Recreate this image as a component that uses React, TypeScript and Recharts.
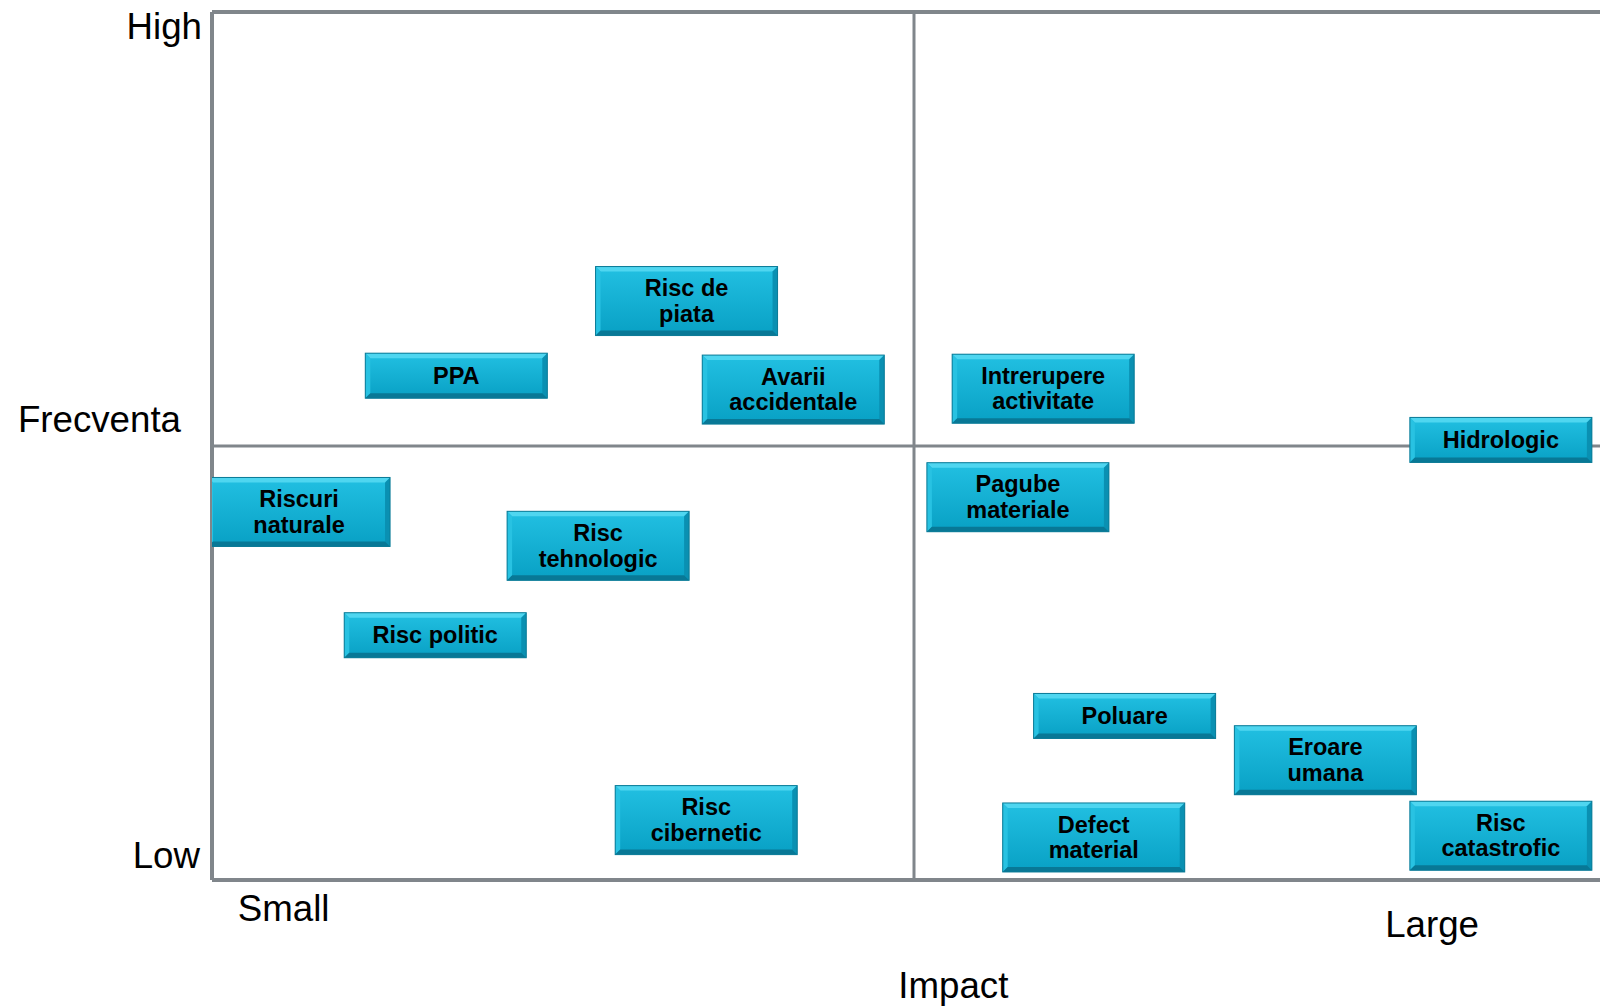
import React from 'react';
import { ScatterChart, Scatter, XAxis, YAxis, ReferenceLine } from 'recharts';

// Risk names (lines of each box label)
const riskLabels: string[][] = [
  ['Risc de', 'piata'],
  ['PPA'],
  ['Avarii', 'accidentale'],
  ['Intrerupere', 'activitate'],
  ['Hidrologic'],
  ['Riscuri', 'naturale'],
  ['Risc', 'tehnologic'],
  ['Pagube', 'materiale'],
  ['Risc politic'],
  ['Poluare'],
  ['Eroare', 'umana'],
  ['Risc', 'cibernetic'],
  ['Defect', 'material'],
  ['Risc', 'catastrofic'],
];
// Impact (x) values
const impactValues: number[] = [3.38, 1.74, 4.14, 5.92, 9.18, 0.62, 2.75, 5.74, 1.59, 6.5, 7.93, 3.52, 6.28, 9.18];
// Frequency (y) values
const frequencyValues: number[] = [6.67, 5.81, 5.65, 5.66, 5.07, 4.24, 3.85, 4.41, 2.82, 1.89, 1.38, 0.69, 0.49, 0.51];

// Axis tick labels
const yTickValues: number[] = [0, 10];
const yTickLabels: string[] = ['Low', 'High'];
const xTickValues: number[] = [0.51, 8.69, 5.28];
const xTickLabels: string[] = ['Small', 'Large', 'Impact'];
const yTitleValue = 5.3;
const yTitle = 'Frecventa';

const data = riskLabels.map((lines, i) => ({
  x: impactValues[i],
  y: frequencyValues[i],
  lines,
}));

const LINE = '#80868b';
const FONT = '"Liberation Sans", Arial, sans-serif';

const BoxShape = (props: any) => {
  const { cx, cy, payload } = props;
  const lines: string[] = payload.lines;
  const w = 182;
  const h = lines.length > 1 ? 69 : 45;
  const x0 = cx - w / 2;
  const y0 = cy - h / 2;
  const b = 5;
  const x1 = x0 + w;
  const y1 = y0 + h;
  return (
    <g>
      <rect x={x0} y={y0} width={w} height={h} fill="url(#faceGrad)" />
      <polygon points={`${x0},${y0} ${x1},${y0} ${x1 - b},${y0 + b} ${x0 + b},${y0 + b}`} fill="#4fd6f0" />
      <polygon points={`${x0},${y0} ${x0 + b},${y0 + b} ${x0 + b},${y1 - b} ${x0},${y1}`} fill="#28c2e2" />
      <polygon points={`${x1},${y0} ${x1},${y1} ${x1 - b},${y1 - b} ${x1 - b},${y0 + b}`} fill="#0a90b2" />
      <polygon points={`${x0},${y1} ${x0 + b},${y1 - b} ${x1 - b},${y1 - b} ${x1},${y1}`} fill="#087896" />
      <rect x={x0} y={y0} width={w} height={h} fill="none" stroke="#0b7a96" strokeWidth={1} />
      {lines.map((ln, i) => (
        <text
          key={i}
          x={cx}
          y={cy + (i - (lines.length - 1) / 2) * 25.5}
          textAnchor="middle"
          dominantBaseline="central"
          fontFamily={FONT}
          fontWeight="bold"
          fontSize={23.5}
          fill="#000"
        >
          {ln}
        </text>
      ))}
    </g>
  );
};

const YTick = (props: any) => {
  const { x, y, payload } = props;
  const v = payload.value;
  if (v === yTitleValue) {
    return (
      <text x={x - 23} y={y} textAnchor="end" dominantBaseline="central" fontFamily={FONT} fontSize={36.7} fill="#000">
        {yTitle}
      </text>
    );
  }
  const idx = yTickValues.indexOf(v);
  const dy = v === 10 ? 14.3 : -25;
  const dx = v === 10 ? -2 : -4;
  return (
    <text x={x + dx} y={y + dy} textAnchor="end" dominantBaseline="central" fontFamily={FONT} fontSize={36.7} fill="#000">
      {yTickLabels[idx]}
    </text>
  );
};

const xTickDy = [20, 36.5, 97.7];
const XTick = (props: any) => {
  const { x, y, payload } = props;
  const idx = xTickValues.indexOf(payload.value);
  return (
    <text x={x} y={y + xTickDy[idx]} textAnchor="middle" dominantBaseline="central" fontFamily={FONT} fontSize={36.7} fill="#000">
      {xTickLabels[idx]}
    </text>
  );
};

export default function App() {
  return (
    <div style={{ position: 'fixed', left: 0, top: 0, width: 1600, height: 1007, overflow: 'hidden', background: '#fff' }}>
      <ScatterChart width={1600} height={1007} margin={{ top: 12, left: 0, right: 0, bottom: 0 }}>
        <defs>
          <linearGradient id="faceGrad" x1="0" y1="0" x2="0" y2="1">
            <stop offset="0%" stopColor="#22c0e2" />
            <stop offset="100%" stopColor="#08a0c4" />
          </linearGradient>
        </defs>
        <XAxis
          type="number"
          dataKey="x"
          domain={[0, 9.886]}
          ticks={xTickValues}
          interval={0}
          height={127}
          axisLine={false}
          tickLine={false}
          tick={<XTick />}
          allowDataOverflow
        />
        <YAxis
          type="number"
          dataKey="y"
          domain={[0, 10]}
          ticks={[...yTickValues, yTitleValue]}
          interval={0}
          width={212}
          axisLine={false}
          tickLine={false}
          tick={<YTick />}
          allowDataOverflow
        />
        <ReferenceLine y={10} stroke={LINE} strokeWidth={4} />
        <ReferenceLine y={0} stroke={LINE} strokeWidth={4} />
        <ReferenceLine x={0} stroke={LINE} strokeWidth={4} />
        <ReferenceLine x={5} stroke={LINE} strokeWidth={3} />
        <ReferenceLine y={5} stroke={LINE} strokeWidth={3} />
        <Scatter data={data} shape={<BoxShape />} isAnimationActive={false} />
      </ScatterChart>
    </div>
  );
}
